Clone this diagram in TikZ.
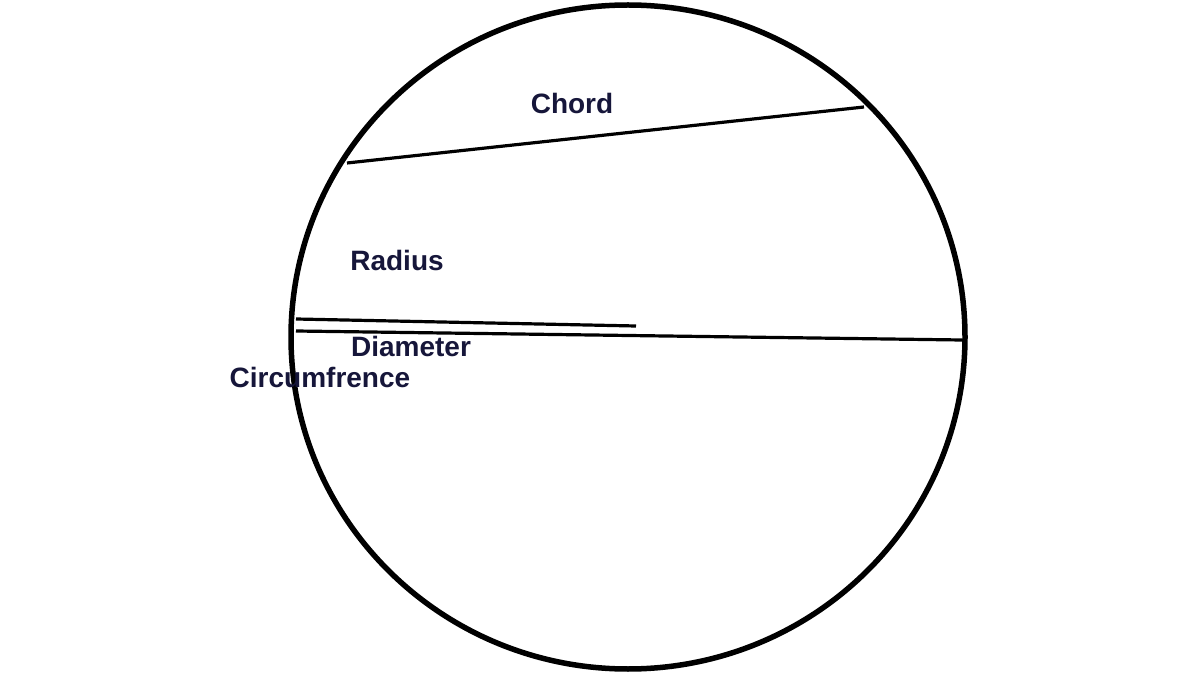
\documentclass[tikz,border=0pt]{standalone}
\usepackage{fontspec}
\setmainfont{Liberation Sans}
\definecolor{lbl}{HTML}{16163A}
\begin{document}
\begin{tikzpicture}[x=1pt,y=-1pt,
  lab/.style={text=lbl,font=\bfseries\fontsize{28}{30}\selectfont,inner sep=0pt},
  seg/.style={line width=3.2pt}]
\useasboundingbox (0,0) rectangle (1200,676);
\fill[white] (0,0) rectangle (1200,676);
\draw[line width=5.5pt] (628,337) ellipse [x radius=337, y radius=332];
\coordinate (c1) at (347,163); \coordinate (c2) at (864,107);
\coordinate (r1) at (296,319); \coordinate (r2) at (636,326);
\coordinate (d1) at (296,331); \coordinate (d2) at (962,340);
\draw[seg] (c1) -- (c2);
\draw[seg] (r1) -- (r2);
\draw[seg] (d1) -- (d2);
\node[lab] (chord) at (572,103) {Chord};
\node[lab] (radius) at (397,260) {Radius};
\node[lab] (diam) at (411,346) {Diameter};
\node[lab] (circ) at (320,377) {Circumfrence};
\end{tikzpicture}
\end{document}
